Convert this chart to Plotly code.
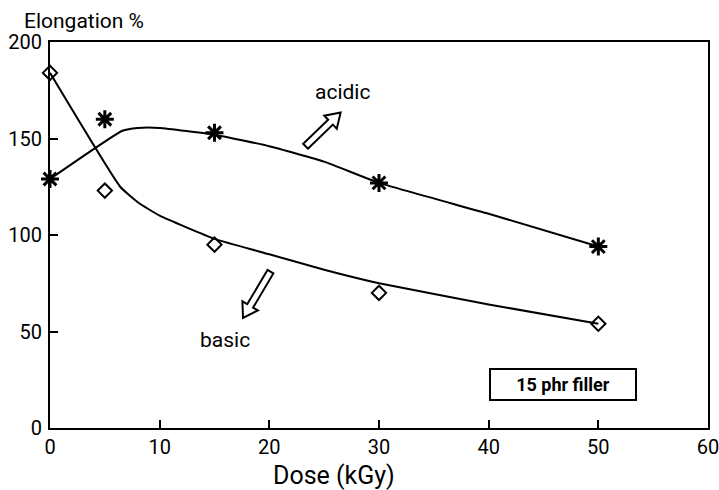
import plotly.graph_objects as go
import numpy as np

# measured points
dose = [0, 5, 15, 30, 50]
acidic = [129, 160, 153, 127, 94]
basic = [184, 123, 95, 70, 54]

# fitted curves
fit_acid_x = [0, 6.6, 8, 10, 15, 20, 25, 30, 40, 50]
fit_acid_y = [129, 154, 155.5, 155.5, 152, 146, 138, 127, 111, 94]
fit_basic_x = [0, 6.4, 8, 10, 15, 20, 25, 30, 40, 50]
fit_basic_y = [184, 125, 117, 110, 98, 90, 82, 75, 64, 54]

xticks = [0, 10, 20, 30, 40, 50, 60]
yticks = [0, 50, 100, 150, 200]

FONT = "Roboto, Liberation Sans Narrow, DejaVu Sans Condensed, sans-serif"

W, H = 719, 490
ML, MR, MT, MB = 50, 11, 42, 62
pw, ph = W - ML - MR, H - MT - MB
sx = pw / 60.0
sy = ph / 200.0


def hollow_arrow(x0, y0, x1, y1, w=3.4, hw=9, hl=14):
    # geometry computed in pixel space then mapped back to data units
    p0 = np.array([x0 * sx, -y0 * sy])
    p1 = np.array([x1 * sx, -y1 * sy])
    d = p1 - p0
    u = d / np.linalg.norm(d)
    n = np.array([-u[1], u[0]])
    neck = p1 - u * hl
    pts = [p0 + n * w, neck + n * w, neck + n * hw, p1,
           neck - n * hw, neck - n * w, p0 - n * w]
    s = ""
    for i, p in enumerate(pts):
        s += ("M" if i == 0 else "L") + f"{p[0] / sx:.4f},{-p[1] / sy:.4f} "
    return s + "Z"


fig = go.Figure()
fig.add_trace(go.Scatter(x=fit_acid_x, y=fit_acid_y, mode="lines",
                         line=dict(color="black", width=2, shape="spline", smoothing=0.4),
                         showlegend=False, hoverinfo="skip"))
fig.add_trace(go.Scatter(x=fit_basic_x, y=fit_basic_y, mode="lines",
                         line=dict(color="black", width=2, shape="spline", smoothing=0.4),
                         showlegend=False, hoverinfo="skip"))
fig.add_trace(go.Scatter(x=dose, y=acidic, mode="markers", name="acidic",
                         marker=dict(symbol="asterisk-open", size=15, color="black",
                                     line=dict(color="black", width=3)),
                         showlegend=False, cliponaxis=False))
fig.add_trace(go.Scatter(x=dose, y=basic, mode="markers", name="basic",
                         marker=dict(symbol="diamond-open", size=11, color="black",
                                     line=dict(color="black", width=2)),
                         showlegend=False, cliponaxis=False))

axis_common = dict(showline=True, linecolor="black", linewidth=2, mirror=True,
                   ticks="inside", ticklen=8, tickwidth=2, tickcolor="black",
                   showgrid=False, zeroline=False, automargin=False,
                   ticklabeloverflow="allow",
                   tickfont=dict(family=FONT, size=20, color="black"))
fig.update_xaxes(range=[0, 60], tickvals=xticks, ticklabelstandoff=0, **axis_common)
fig.update_yaxes(range=[0, 200], tickvals=yticks, ticklabelstandoff=2, **axis_common)

fig.add_shape(type="path", xref="x", yref="y",
              path=hollow_arrow(23.3, 146, 26.5, 163.5),
              line=dict(color="black", width=2), fillcolor="white")
fig.add_shape(type="path", xref="x", yref="y",
              path=hollow_arrow(20.1, 81, 17.6, 57),
              line=dict(color="black", width=2), fillcolor="white")

fig.add_annotation(x=26.7, y=174, xref="x", yref="y", text="acidic", showarrow=False,
                   font=dict(family=FONT, size=21, color="black"))
fig.add_annotation(x=16, y=45.5, xref="x", yref="y", text="basic", showarrow=False,
                   font=dict(family=FONT, size=21, color="black"))
fig.add_annotation(x=(563 - ML) / pw, y=1 - (384 - MT) / ph, xref="paper", yref="paper",
                   xanchor="center", yanchor="middle",
                   text="<b>15 phr filler</b>", showarrow=False,
                   font=dict(family=FONT, size=18, color="black"),
                   width=144, height=29, bordercolor="black", borderwidth=2,
                   borderpad=0, bgcolor="white")
fig.add_annotation(x=(22 - ML) / pw, y=1 + (MT - 21) / ph, xref="paper", yref="paper",
                   xanchor="left", yanchor="middle", text="Elongation %", showarrow=False,
                   font=dict(family=FONT, size=21, color="black"))
fig.add_annotation(x=(334 - ML) / pw, y=-(475 - MT - ph) / ph, xref="paper", yref="paper",
                   xanchor="center", yanchor="middle", text="Dose (kGy)", showarrow=False,
                   font=dict(family=FONT, size=25, color="black"))

fig.update_layout(width=W, height=H, margin=dict(l=ML, r=MR, t=MT, b=MB),
                  plot_bgcolor="white", paper_bgcolor="white")

fig.write_html("out.html")
